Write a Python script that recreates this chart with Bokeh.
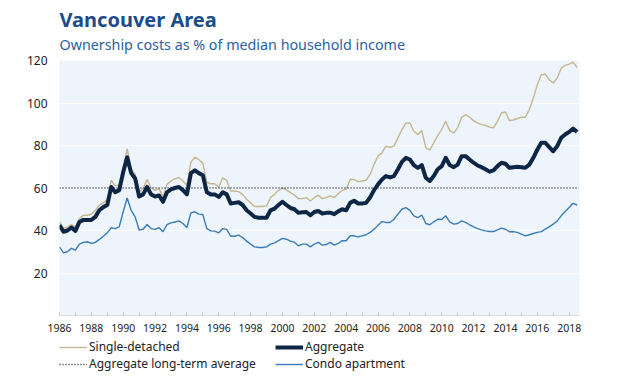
import numpy as np
from bokeh.plotting import figure
from bokeh.layouts import column
from bokeh.models import (Title, Legend, LegendItem, FixedTicker, SingleIntervalTicker, Range1d)
from bokeh.embed import file_html
from bokeh.resources import INLINE

# ---- data (quarterly, starting 1986 Q1) ----
single_detached = [
    44.0, 41.0, 41.7, 42.8,   # 1986
    41.7, 45.6, 47.2, 47.2,   # 1987
    47.7, 49.5, 52.0, 53.0,   # 1988
    54.5, 63.6, 61.0, 61.4,   # 1989
    69.8, 78.4, 68.8, 66.5,   # 1990
    58.0, 59.7, 64.0, 60.0,   # 1991
    58.9, 59.7, 55.8, 61.7,   # 1992
    63.3, 64.4, 64.8, 63.3,   # 1993
    61.3, 72.2, 74.5, 73.3,   # 1994
    71.7, 62.5, 62.0, 62.0,   # 1995
    60.5, 64.8, 63.6, 58.6,   # 1996
    58.6, 58.3, 57.0, 54.7,   # 1997
    53.0, 51.3, 51.3, 51.3,   # 1998
    51.6, 55.5, 57.0, 58.9,   # 1999
    60.0, 59.1, 57.8, 56.7,   # 2000
    55.0, 55.0, 55.5, 53.9,   # 2001
    55.5, 56.6, 55.0, 55.5,   # 2002
    56.3, 55.5, 57.3, 58.9,   # 2003
    59.4, 64.0, 64.0, 63.0,   # 2004
    63.3, 63.6, 66.4, 71.1,   # 2005
    75.0, 76.6, 79.7, 79.2,   # 2006
    79.7, 83.6, 87.5, 90.6,   # 2007
    90.6, 86.7, 85.2, 87.0,   # 2008
    78.9, 77.8, 81.3, 84.8,   # 2009
    87.5, 91.4, 87.0, 85.9,   # 2010
    88.3, 93.3, 94.5, 93.3,   # 2011
    91.7, 90.6, 89.8, 89.5,   # 2012
    88.6, 88.3, 91.4, 95.3,   # 2013
    95.8, 91.7, 92.0, 92.7,   # 2014
    93.3, 93.3, 96.9, 102.3,  # 2015
    108.6, 113.3, 113.6, 111.0,  # 2016
    109.4, 111.7, 116.4, 117.7,  # 2017
    118.3, 119.2, 116.7,      # 2018
]

aggregate = [
    42.5, 39.4, 40.0, 41.4,   # 1986
    39.8, 44.0, 45.0, 45.0,   # 1987
    45.0, 46.4, 49.5, 51.0,   # 1988
    52.0, 60.5, 58.0, 59.0,   # 1989
    67.5, 74.5, 67.0, 64.5,   # 1990
    56.0, 57.0, 60.5, 57.0,   # 1991
    56.0, 56.5, 53.5, 58.0,   # 1992
    59.4, 60.0, 60.5, 59.0,   # 1993
    57.0, 67.0, 68.3, 67.0,   # 1994
    66.0, 58.0, 57.0, 57.0,   # 1995
    55.8, 58.0, 57.0, 52.7,   # 1996
    53.0, 53.3, 52.0, 49.5,   # 1997
    48.0, 46.4, 46.0, 46.0,   # 1998
    46.0, 49.5, 50.3, 52.0,   # 1999
    53.5, 52.0, 50.6, 50.0,   # 2000
    48.3, 48.6, 48.7, 47.2,   # 2001
    48.7, 49.2, 48.0, 48.3,   # 2002
    48.4, 47.7, 49.0, 50.0,   # 2003
    49.5, 53.0, 54.0, 52.7,   # 2004
    52.7, 53.0, 55.5, 59.0,   # 2005
    61.7, 64.0, 65.6, 65.0,   # 2006
    65.6, 68.8, 72.3, 74.2,   # 2007
    73.4, 70.8, 69.5, 70.8,   # 2008
    64.8, 63.3, 65.6, 68.8,   # 2009
    70.3, 74.2, 70.8, 69.8,   # 2010
    71.0, 75.0, 75.0, 73.4,   # 2011
    71.9, 70.6, 69.8, 68.8,   # 2012
    67.7, 68.3, 70.3, 71.9,   # 2013
    71.4, 69.5, 69.8, 70.0,   # 2014
    69.8, 69.5, 71.0, 74.2,   # 2015
    78.0, 81.3, 81.3, 79.2,   # 2016
    77.3, 79.7, 83.6, 85.2,   # 2017
    86.4, 88.0, 86.4,         # 2018
]

condo = [
    32.3, 29.5, 30.0, 31.6,   # 1986
    30.8, 33.6, 34.4, 34.7,   # 1987
    33.9, 34.4, 35.8, 37.3,   # 1988
    38.9, 41.3, 40.9, 41.7,   # 1989
    48.8, 55.3, 49.5, 46.4,   # 1990
    40.2, 40.6, 42.8, 40.9,   # 1991
    40.5, 41.3, 39.4, 42.8,   # 1992
    43.6, 44.0, 44.5, 43.3,   # 1993
    41.4, 48.3, 48.8, 47.7,   # 1994
    47.5, 40.9, 39.8, 39.7,   # 1995
    38.9, 40.9, 40.5, 37.3,   # 1996
    37.3, 37.8, 36.7, 35.0,   # 1997
    33.6, 32.3, 32.0, 32.0,   # 1998
    32.3, 33.6, 34.2, 35.2,   # 1999
    36.3, 35.9, 35.0, 34.5,   # 2000
    32.8, 33.6, 33.6, 32.3,   # 2001
    33.6, 34.4, 33.1, 33.4,   # 2002
    34.4, 33.1, 33.9, 35.2,   # 2003
    35.2, 37.5, 37.5, 37.0,   # 2004
    37.5, 38.0, 39.1, 40.6,   # 2005
    42.5, 44.2, 43.8, 43.8,   # 2006
    45.3, 47.7, 50.0, 50.8,   # 2007
    49.5, 46.9, 46.1, 47.3,   # 2008
    43.3, 42.7, 44.1, 45.3,   # 2009
    45.3, 46.9, 44.1, 43.0,   # 2010
    43.3, 44.5, 43.8, 42.7,   # 2011
    41.7, 40.9, 40.3, 39.8,   # 2012
    39.5, 39.5, 40.3, 41.1,   # 2013
    40.6, 39.4, 39.5, 39.1,   # 2014
    38.3, 37.5, 38.0, 38.6,   # 2015
    39.1, 39.5, 40.6, 41.7,   # 2016
    43.0, 44.5, 46.9, 48.9,   # 2017
    50.8, 52.8, 52.0,         # 2018
]

long_term_average = 60.0
start_year = 1986
years = [start_year + 0.25 * i for i in range(len(aggregate))]
y_ticks = [20, 40, 60, 80, 100, 120]

TITLE = "Vancouver Area"
SUBTITLE = "Ownership costs as % of median household income"
LABELS = ["Single-detached", "Aggregate long-term average", "Aggregate", "Condo apartment"]

FONT = "Noto Sans"
C_SD, C_AVG, C_AGG, C_CONDO = "#c4b78f", "#1c2a3a", "#0e2645", "#3b7cb8"

W = 636
FRAME_L, FRAME_R = 59, 579

p = figure(width=W, height=338, output_backend="svg", toolbar_location=None,
           title=None, x_range=(1986, 2018.65), y_range=(0, 120),
           min_border_left=FRAME_L, min_border_right=W - FRAME_R, min_border_top=60,
           min_border_bottom=23)
p.background_fill_color = "#edf4fb"
p.border_fill_color = "white"
p.outline_line_color = None

sub = Title(text=SUBTITLE, text_font=FONT, text_font_size="14.3px",
            text_font_style="normal", text_color="#2a62a2", align="left",
            standoff=13)
main = Title(text=TITLE, text_font=FONT, text_font_size="20px",
             text_font_style="bold", text_color="#1b4c8b", align="left",
             standoff=-13)
p.add_layout(sub, "above")
p.add_layout(main, "above")

# grid
p.xgrid.grid_line_color = None
p.ygrid.ticker = FixedTicker(ticks=y_ticks)
p.ygrid.grid_line_color = "white"
p.ygrid.grid_line_width = 1

# axes
p.yaxis.ticker = FixedTicker(ticks=y_ticks)
p.yaxis.axis_line_color = None
p.yaxis.major_tick_line_color = None
p.yaxis.minor_tick_line_color = None
p.yaxis.major_tick_out = 0
p.yaxis.major_tick_in = 0
p.yaxis.major_label_text_font = FONT
p.yaxis.major_label_text_font_size = "12px"
p.yaxis.major_label_text_color = "#222222"
p.yaxis.major_label_standoff = 12

p.xaxis.ticker = SingleIntervalTicker(interval=2, num_minor_ticks=2)
p.xaxis.axis_line_color = "#dcdcdc"
p.xaxis.major_tick_line_color = "#c8c8c8"
p.xaxis.minor_tick_line_color = "#c8c8c8"
p.xaxis.major_tick_in = 3
p.xaxis.major_tick_out = 0
p.xaxis.minor_tick_in = 3
p.xaxis.minor_tick_out = 0
p.xaxis.major_label_text_font = FONT
p.xaxis.major_label_text_font_size = "10.5px"
p.xaxis.major_label_text_color = "#222222"
p.xaxis.major_label_standoff = 8

# lines
p.line(years, single_detached, line_color=C_SD, line_width=1.4)
p.line([years[0], years[-1] + 0.1], [long_term_average, long_term_average],
       line_color=C_AVG, line_width=1.6, line_dash="1 2")
p.line(years, condo, line_color=C_CONDO, line_width=1.4)
p.line(years, aggregate, line_color=C_AGG, line_width=4, line_join="round")

# legend (separate strip below the chart, same line styles)
lf = figure(width=W, height=40, output_backend="svg", toolbar_location=None,
            x_axis_location=None, y_axis_location=None,
            x_range=Range1d(0, 1), y_range=Range1d(0, 1),
            min_border_left=FRAME_L, min_border_right=W - FRAME_R,
            min_border_top=0, min_border_bottom=0)
lf.outline_line_color = None
lf.xgrid.grid_line_color = None
lf.ygrid.grid_line_color = None
lf.background_fill_color = "white"
off = [5, 6]  # outside the strip's ranges: only the legend glyphs show
l_sd = lf.line(off, off, line_color=C_SD, line_width=1.4)
l_avg = lf.line(off, off, line_color=C_AVG, line_width=1.6, line_dash="1 2")
l_agg = lf.line(off, off, line_color=C_AGG, line_width=4)
l_condo = lf.line(off, off, line_color=C_CONDO, line_width=1.4)

legend = Legend(items=[
    LegendItem(label=LABELS[0], renderers=[l_sd]),
    LegendItem(label=LABELS[1], renderers=[l_avg]),
    LegendItem(label=LABELS[2], renderers=[l_agg]),
    LegendItem(label=LABELS[3], renderers=[l_condo]),
], ncols=2, location="top_left", margin=0, padding=0, spacing=0,
    glyph_width=28, glyph_height=14, label_height=14, label_width=186,
    label_standoff=2, label_text_font=FONT, label_text_font_size="12px",
    label_text_line_height=1.0,
    label_text_color="#222222", background_fill_alpha=0, border_line_color=None)
lf.add_layout(legend)

open("out.html", "w").write(file_html(column(p, lf, spacing=0), INLINE))
